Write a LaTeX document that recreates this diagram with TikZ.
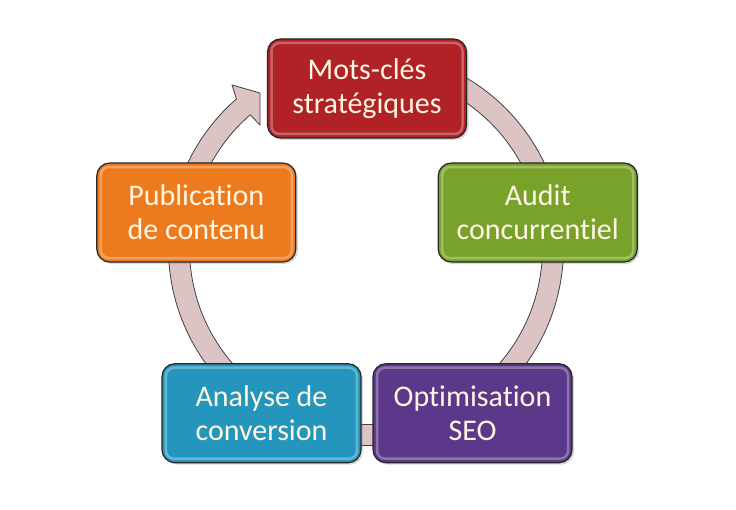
\documentclass[tikz,border=0pt]{standalone}
\usepackage{fontspec}
\setmainfont{Carlito}[Ligatures={NoCommon}]
\usetikzlibrary{shadows}

\definecolor{motsred}{RGB}{176,34,38}
\definecolor{auditgreen}{RGB}{120,162,42}
\definecolor{seopurple}{RGB}{92,56,138}
\definecolor{convblue}{RGB}{36,150,190}
\definecolor{puborange}{RGB}{238,122,30}
\definecolor{ringpink}{RGB}{221,196,196}
\definecolor{labeltext}{RGB}{255,246,228}

\begin{document}
\begin{tikzpicture}[
    % styles
    x=1pt, y=1pt,
    stage/.style={rectangle, rounded corners=13pt, minimum width=199pt, minimum height=99pt,
        inner sep=0pt, draw=black!85, line width=1.2pt, text=labeltext, align=center,
        font=\fontsize{30}{34}\selectfont,
        drop shadow={shadow xshift=2pt, shadow yshift=-2pt, opacity=.3},
        path picture={\draw[white, opacity=.3, line width=2.5pt, rounded corners=8pt]
            ([xshift=4pt,yshift=4pt]path picture bounding box.south west) rectangle
            ([xshift=-4pt,yshift=-4pt]path picture bounding box.north east);}},
    ring/.style={fill=ringpink, draw=black!75, line width=0.8pt, line join=round}
]

    \fill[white] (0,0) rectangle (736,509);
    \useasboundingbox (0,0) rectangle (736,509);

    % layout values
    \def\radius{179.5}
    \coordinate (hub) at (367,241);

    % --- 1. the cycle ring with its arrow head ---
    \begin{scope}[shift={(366,261)}]
        \draw[ring] (80:197.5) arc[start angle=80, end angle=-229, radius=197.5]
            -- (-134,163) -- (-106,155) -- (-106,123) -- (131:176.5)
            arc[start angle=-229, end angle=80, radius=176.5] -- cycle;
    \end{scope}

    % --- 2. the five stages ---
    \foreach \name/\ang/\col/\txt in {
            mots/90/motsred/{Mots-clés\\stratégiques},
            audit/18/auditgreen/{Audit\\concurrentiel},
            seo/-54/seopurple/{Optimisation\\SEO},
            conv/-126/convblue/{Analyse de\\conversion},
            pub/162/puborange/{Publication\\de contenu}}
        \node[stage, fill=\col] (\name) at ([shift={(\ang:\radius)}]hub) {\txt};

\end{tikzpicture}
\end{document}
